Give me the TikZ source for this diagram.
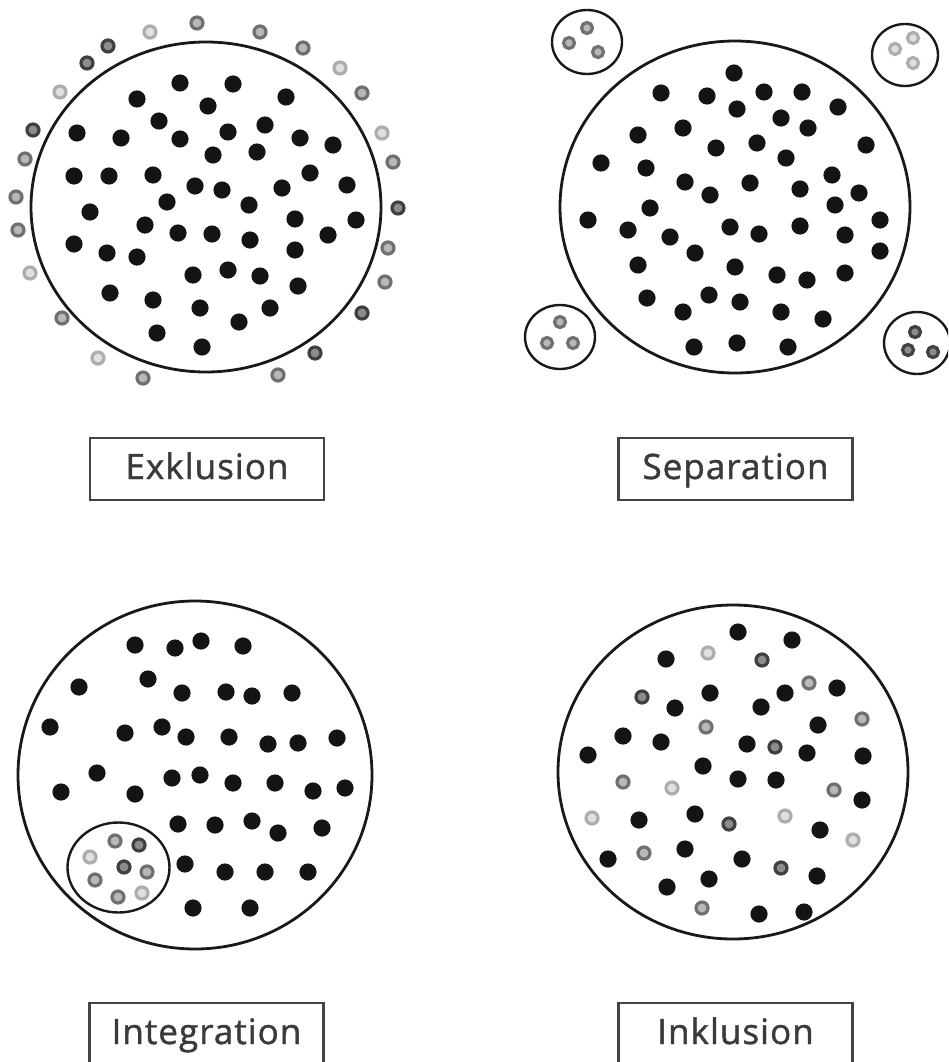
\documentclass[tikz,border=0pt]{standalone}
\usepackage{fontspec}
\newfontfamily\lblfont[LetterSpace=3,FakeBold=1.2]{Open Sans}
\definecolor{txtgray}{HTML}{3a3a3a}
\definecolor{boxgray}{HTML}{444444}
\tikzset{
  bigring/.style={draw=black!90, line width=2.8pt},
  smallring/.style={draw=black!90, line width=2.4pt},
  lbl/.style={draw=boxgray, line width=2.4pt, minimum width=234pt, minimum height=62pt,
    inner sep=0pt, text height=25pt, text depth=5pt, text=txtgray, font=\lblfont\fontsize{35}{40}\selectfont},
  rdark/.style={draw=black!75, fill=black!45, line width=3.2pt},
  rmid/.style={draw=black!56, fill=black!28, line width=3.2pt},
  rlight/.style={draw=black!32, fill=black!12, line width=3.2pt}
}
\begin{document}
\begin{tikzpicture}[x=1pt,y=-1pt]
\useasboundingbox (0,0) rectangle (948,1062);
\clip (0,0) rectangle (948,1062);
\fill[white] (0,0) rectangle (948,1062);

% ---------------- Exklusion ----------------
\draw[bigring] (206,207) ellipse [x radius=175pt, y radius=165pt];
\foreach \p in {(180,83),(233,84),(137,99),(208,106),(286,97),(159,121),(77,133),(121,138),
  (180,139),(228,132),(265,125),(300,138),(333,145),(213,155),(257,152),(74,176),(109,176),
  (153,175),(195,186),(222,190),(282,188),(310,173),(347,185),(167,202),(249,205),(90,212),
  (145,225),(178,233),(212,234),(250,240),(295,219),(356,220),(328,235),(74,244),(107,253),
  (137,257),(295,250),(193,275),(228,270),(260,276),(298,286),(110,293),(153,300),(200,308),
  (239,322),(270,308),(157,333),(202,347)}
  {\fill[black!92] \p circle[radius=8.6pt];}
\foreach \p in {(108,46),(87,63),(33,130),(398,208),(362,313),(315,353)}
  {\draw[rdark] \p circle[radius=6pt];}
\foreach \p in {(197,23),(260,32),(303,48),(362,93),(25,159),(393,162),(16,197),(18,230),
  (388,248),(385,282),(62,318),(143,378),(278,375)}
  {\draw[rmid] \p circle[radius=6pt];}
\foreach \p in {(150,32),(340,68),(60,92),(382,133),(30,273),(98,358)}
  {\draw[rlight] \p circle[radius=6pt];}
\node[lbl] (lexk) at (207,469) {Exklusion};

% ---------------- Separation ----------------
\draw[bigring] (735,207) ellipse [x radius=175pt, y radius=166pt];
\foreach \p in {(734,73),(661,93),(707,96),(764,92),(802,92),(838,107),(737,109),(781,118),
  (808,128),(638,135),(683,128),(716,148),(757,143),(866,145),(601,163),(646,168),(786,158),
  (685,182),(750,183),(832,175),(710,195),(800,189),(859,193),(650,208),(835,205),(588,220),
  (628,230),(670,237),(730,227),(759,234),(800,226),(880,220),(845,235),(695,253),(638,265),
  (735,267),(777,275),(807,280),(845,273),(880,251),(647,298),(709,295),(740,302),(683,312),
  (781,312),(823,319),(694,347),(737,343),(788,347)}
  {\fill[black!92] \p circle[radius=8.6pt];}
\draw[smallring] (587,42) ellipse [x radius=35pt, y radius=32pt];
\foreach \p in {(587,28),(569,43),(598,52)} {\draw[rmid] \p circle[radius=5.5pt];}
\draw[smallring] (905,55) ellipse [x radius=33pt, y radius=31pt];
\foreach \p in {(913,38),(895,49),(913,63)} {\draw[rlight] \p circle[radius=5.5pt];}
\draw[smallring] (560,337) ellipse [x radius=35pt, y radius=32pt];
\foreach \p in {(560,322),(547,343),(573,343)} {\draw[rmid] \p circle[radius=5.5pt];}
\draw[smallring] (917,343) ellipse [x radius=33pt, y radius=31pt];
\foreach \p in {(915,332),(908,350),(933,352)} {\draw[rdark] \p circle[radius=5.5pt];}
\node[lbl] (lsep) at (735.5,469) {Separation};

% ---------------- Integration ----------------
\draw[bigring] (195,775) ellipse [x radius=177pt, y radius=174pt];
\foreach \p in {(135,645),(175,648),(201,641),(243,646),(79,687),(148,679),(182,693),(226,692),
  (252,696),(292,693),(50,727),(125,733),(162,727),(186,737),(229,737),(268,744),(298,743),
  (337,738),(97,773),(61,792),(135,794),(172,778),(200,775),(233,783),(275,783),(313,791),
  (345,788),(178,824),(215,825),(252,821),(278,833),(322,828),(185,864),(225,872),(265,872),
  (308,872),(193,908),(250,908)}
  {\fill[black!92] \p circle[radius=8.6pt];}
\draw[smallring] (118.5,867.5) ellipse [x radius=51pt, y radius=45pt];
\foreach \p in {(115,841),(147,872),(95,880),(118,897)} {\draw[rmid] \p circle[radius=6pt];}
\foreach \p in {(139,845),(124,867)} {\draw[rdark] \p circle[radius=6pt];}
\foreach \p in {(90,857),(142,893)} {\draw[rlight] \p circle[radius=6pt];}
\node[lbl] (lint) at (206.5,1034) {Integration};

% ---------------- Inklusion ----------------
\draw[bigring] (733,772) ellipse [x radius=175pt, y radius=167pt];
\foreach \p in {(738,632),(792,640),(666,659),(710,693),(785,693),(837,688),(675,708),(761,707),
  (818,725),(623,736),(661,742),(747,744),(807,753),(863,756),(588,755),(703,766),(738,779),
  (776,780),(862,800),(639,820),(695,814),(820,830),(608,859),(685,849),(742,859),(817,876),
  (667,887),(709,879),(759,914),(804,912)}
  {\fill[black!92] \p circle[radius=8.6pt];}
\foreach \p in {(762,660),(642,697),(775,747),(781,868),(729,824)}
  {\draw[rdark] \p circle[radius=6pt];}
\foreach \p in {(809,683),(706,727),(862,719),(623,782),(834,790),(644,853),(702,908)}
  {\draw[rmid] \p circle[radius=6pt];}
\foreach \p in {(708,653),(672,788),(592,818),(785,816),(853,840)}
  {\draw[rlight] \p circle[radius=6pt];}
\node[lbl] (link) at (735.5,1034) {Inklusion};
\end{tikzpicture}
\end{document}
